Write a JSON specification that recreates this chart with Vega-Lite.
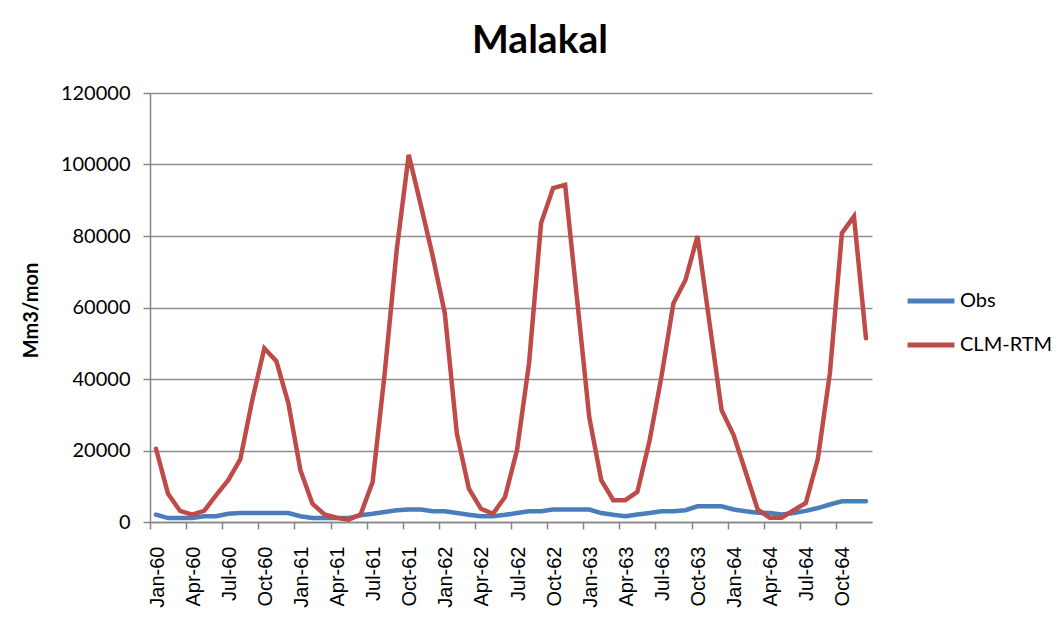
{
  "$schema": "https://vega.github.io/schema/vega-lite/v6.json",
  "width": 722,
  "height": 429,
  "autosize": {"type": "none"},
  "padding": {"left": 150, "top": 93, "right": 191, "bottom": 112},
  "background": "white",
  "title": {
    "text": "Malakal",
    "font": "Lato",
    "fontSize": 39,
    "fontWeight": "bold",
    "color": "black",
    "anchor": "middle",
    "dx": 29,
    "offset": 22
  },
  "config": {
    "view": {"stroke": null},
    "axis": {"domainColor": "#868686", "tickColor": "#868686", "gridColor": "#8e8e8e", "domainWidth": 1.5, "tickWidth": 1.5, "gridWidth": 1.3}
  },
  "data": {
    "values": [
      {"month": "Jan-60", "series": "Obs", "value": 2050},
      {"month": "Feb-60", "series": "Obs", "value": 1100},
      {"month": "Mar-60", "series": "Obs", "value": 1100},
      {"month": "Apr-60", "series": "Obs", "value": 1100},
      {"month": "May-60", "series": "Obs", "value": 1600},
      {"month": "Jun-60", "series": "Obs", "value": 1600},
      {"month": "Jul-60", "series": "Obs", "value": 2300},
      {"month": "Aug-60", "series": "Obs", "value": 2500},
      {"month": "Sep-60", "series": "Obs", "value": 2500},
      {"month": "Oct-60", "series": "Obs", "value": 2500},
      {"month": "Nov-60", "series": "Obs", "value": 2500},
      {"month": "Dec-60", "series": "Obs", "value": 2500},
      {"month": "Jan-61", "series": "Obs", "value": 1600},
      {"month": "Feb-61", "series": "Obs", "value": 1100},
      {"month": "Mar-61", "series": "Obs", "value": 1100},
      {"month": "Apr-61", "series": "Obs", "value": 1100},
      {"month": "May-61", "series": "Obs", "value": 1100},
      {"month": "Jun-61", "series": "Obs", "value": 1900},
      {"month": "Jul-61", "series": "Obs", "value": 2300},
      {"month": "Aug-61", "series": "Obs", "value": 2800},
      {"month": "Sep-61", "series": "Obs", "value": 3300},
      {"month": "Oct-61", "series": "Obs", "value": 3500},
      {"month": "Nov-61", "series": "Obs", "value": 3500},
      {"month": "Dec-61", "series": "Obs", "value": 3000},
      {"month": "Jan-62", "series": "Obs", "value": 3000},
      {"month": "Feb-62", "series": "Obs", "value": 2500},
      {"month": "Mar-62", "series": "Obs", "value": 2000},
      {"month": "Apr-62", "series": "Obs", "value": 1600},
      {"month": "May-62", "series": "Obs", "value": 1600},
      {"month": "Jun-62", "series": "Obs", "value": 2000},
      {"month": "Jul-62", "series": "Obs", "value": 2500},
      {"month": "Aug-62", "series": "Obs", "value": 3000},
      {"month": "Sep-62", "series": "Obs", "value": 3000},
      {"month": "Oct-62", "series": "Obs", "value": 3500},
      {"month": "Nov-62", "series": "Obs", "value": 3500},
      {"month": "Dec-62", "series": "Obs", "value": 3500},
      {"month": "Jan-63", "series": "Obs", "value": 3500},
      {"month": "Feb-63", "series": "Obs", "value": 2500},
      {"month": "Mar-63", "series": "Obs", "value": 2000},
      {"month": "Apr-63", "series": "Obs", "value": 1600},
      {"month": "May-63", "series": "Obs", "value": 2100},
      {"month": "Jun-63", "series": "Obs", "value": 2500},
      {"month": "Jul-63", "series": "Obs", "value": 3000},
      {"month": "Aug-63", "series": "Obs", "value": 3000},
      {"month": "Sep-63", "series": "Obs", "value": 3300},
      {"month": "Oct-63", "series": "Obs", "value": 4400},
      {"month": "Nov-63", "series": "Obs", "value": 4400},
      {"month": "Dec-63", "series": "Obs", "value": 4400},
      {"month": "Jan-64", "series": "Obs", "value": 3500},
      {"month": "Feb-64", "series": "Obs", "value": 3000},
      {"month": "Mar-64", "series": "Obs", "value": 2600},
      {"month": "Apr-64", "series": "Obs", "value": 2500},
      {"month": "May-64", "series": "Obs", "value": 2100},
      {"month": "Jun-64", "series": "Obs", "value": 2500},
      {"month": "Jul-64", "series": "Obs", "value": 3100},
      {"month": "Aug-64", "series": "Obs", "value": 3900},
      {"month": "Sep-64", "series": "Obs", "value": 4900},
      {"month": "Oct-64", "series": "Obs", "value": 5800},
      {"month": "Nov-64", "series": "Obs", "value": 5800},
      {"month": "Dec-64", "series": "Obs", "value": 5800},
      {"month": "Jan-60", "series": "CLM-RTM", "value": 20500},
      {"month": "Feb-60", "series": "CLM-RTM", "value": 7900},
      {"month": "Mar-60", "series": "CLM-RTM", "value": 3100},
      {"month": "Apr-60", "series": "CLM-RTM", "value": 2050},
      {"month": "May-60", "series": "CLM-RTM", "value": 3100},
      {"month": "Jun-60", "series": "CLM-RTM", "value": 7500},
      {"month": "Jul-60", "series": "CLM-RTM", "value": 11700},
      {"month": "Aug-60", "series": "CLM-RTM", "value": 17500},
      {"month": "Sep-60", "series": "CLM-RTM", "value": 34100},
      {"month": "Oct-60", "series": "CLM-RTM", "value": 48600},
      {"month": "Nov-60", "series": "CLM-RTM", "value": 45000},
      {"month": "Dec-60", "series": "CLM-RTM", "value": 33200},
      {"month": "Jan-61", "series": "CLM-RTM", "value": 14500},
      {"month": "Feb-61", "series": "CLM-RTM", "value": 5100},
      {"month": "Mar-61", "series": "CLM-RTM", "value": 2100},
      {"month": "Apr-61", "series": "CLM-RTM", "value": 1200},
      {"month": "May-61", "series": "CLM-RTM", "value": 650},
      {"month": "Jun-61", "series": "CLM-RTM", "value": 2100},
      {"month": "Jul-61", "series": "CLM-RTM", "value": 11200},
      {"month": "Aug-61", "series": "CLM-RTM", "value": 41500},
      {"month": "Sep-61", "series": "CLM-RTM", "value": 76000},
      {"month": "Oct-61", "series": "CLM-RTM", "value": 102700},
      {"month": "Nov-61", "series": "CLM-RTM", "value": 88700},
      {"month": "Dec-61", "series": "CLM-RTM", "value": 74300},
      {"month": "Jan-62", "series": "CLM-RTM", "value": 58400},
      {"month": "Feb-62", "series": "CLM-RTM", "value": 24750},
      {"month": "Mar-62", "series": "CLM-RTM", "value": 9300},
      {"month": "Apr-62", "series": "CLM-RTM", "value": 3700},
      {"month": "May-62", "series": "CLM-RTM", "value": 2300},
      {"month": "Jun-62", "series": "CLM-RTM", "value": 7000},
      {"month": "Jul-62", "series": "CLM-RTM", "value": 20100},
      {"month": "Aug-62", "series": "CLM-RTM", "value": 44400},
      {"month": "Sep-62", "series": "CLM-RTM", "value": 83600},
      {"month": "Oct-62", "series": "CLM-RTM", "value": 93400},
      {"month": "Nov-62", "series": "CLM-RTM", "value": 94300},
      {"month": "Dec-62", "series": "CLM-RTM", "value": 62000},
      {"month": "Jan-63", "series": "CLM-RTM", "value": 29400},
      {"month": "Feb-63", "series": "CLM-RTM", "value": 11700},
      {"month": "Mar-63", "series": "CLM-RTM", "value": 6100},
      {"month": "Apr-63", "series": "CLM-RTM", "value": 6100},
      {"month": "May-63", "series": "CLM-RTM", "value": 8400},
      {"month": "Jun-63", "series": "CLM-RTM", "value": 22500},
      {"month": "Jul-63", "series": "CLM-RTM", "value": 40600},
      {"month": "Aug-63", "series": "CLM-RTM", "value": 61200},
      {"month": "Sep-63", "series": "CLM-RTM", "value": 67700},
      {"month": "Oct-63", "series": "CLM-RTM", "value": 80000},
      {"month": "Nov-63", "series": "CLM-RTM", "value": 55600},
      {"month": "Dec-63", "series": "CLM-RTM", "value": 31300},
      {"month": "Jan-64", "series": "CLM-RTM", "value": 24300},
      {"month": "Feb-64", "series": "CLM-RTM", "value": 14000},
      {"month": "Mar-64", "series": "CLM-RTM", "value": 3500},
      {"month": "Apr-64", "series": "CLM-RTM", "value": 1200},
      {"month": "May-64", "series": "CLM-RTM", "value": 1200},
      {"month": "Jun-64", "series": "CLM-RTM", "value": 3300},
      {"month": "Jul-64", "series": "CLM-RTM", "value": 5300},
      {"month": "Aug-64", "series": "CLM-RTM", "value": 17700},
      {"month": "Sep-64", "series": "CLM-RTM", "value": 41600},
      {"month": "Oct-64", "series": "CLM-RTM", "value": 80800},
      {"month": "Nov-64", "series": "CLM-RTM", "value": 85500},
      {"month": "Dec-64", "series": "CLM-RTM", "value": 51400}
    ]
  },
  "mark": {"type": "line", "strokeWidth": 4.5, "strokeJoin": "miter", "strokeCap": "round"},
  "encoding": {
    "x": {
      "field": "month",
      "type": "ordinal",
      "sort": null,
      "scale": {"type": "point", "padding": 0.5},
      "axis": {
        "title": null,
        "values": ["Jan-60","Apr-60","Jul-60","Oct-60","Jan-61","Apr-61","Jul-61","Oct-61","Jan-62","Apr-62","Jul-62","Oct-62","Jan-63","Apr-63","Jul-63","Oct-63","Jan-64","Apr-64","Jul-64","Oct-64"],
        "tickOffset": -6,
        "labelOffset": 7,
        "labelAngle": -90,
        "labelFont": "Liberation Sans",
        "labelFontSize": 20,
        "labelColor": "black",
        "labelPadding": 17,
        "tickSize": 7,
        "grid": false
      }
    },
    "y": {
      "field": "value",
      "type": "quantitative",
      "scale": {"domain": [0, 120000], "nice": false},
      "axis": {
        "values": [0, 20000, 40000, 60000, 80000, 100000, 120000],
        "format": "d",
        "title": "Mm3/mon",
        "titleFont": "Lato",
        "titleFontSize": 20,
        "titleFontWeight": "bold",
        "titleColor": "black",
        "titleAngle": -90,
        "titleX": -119,
        "titleY": 217,
        "titleAlign": "center",
        "titleBaseline": "middle",
        "labelFont": "Lato",
        "labelFontSize": 20,
        "labelColor": "black",
        "labelPadding": 13,
        "tickSize": 7,
        "grid": true
      }
    },
    "color": {
      "field": "series",
      "type": "nominal",
      "scale": {"domain": ["Obs", "CLM-RTM"], "range": ["#4A7EBB", "#BE4B48"]},
      "legend": {
        "title": null,
        "orient": "none",
        "legendX": 755,
        "legendY": 198,
        "symbolType": "stroke",
        "symbolSize": 2200,
        "symbolStrokeWidth": 5,
        "clipHeight": 20,
        "rowPadding": 24,
        "labelFont": "Lato",
        "labelFontSize": 20,
        "labelColor": "black",
        "labelOffset": 3
      }
    }
  }
}
